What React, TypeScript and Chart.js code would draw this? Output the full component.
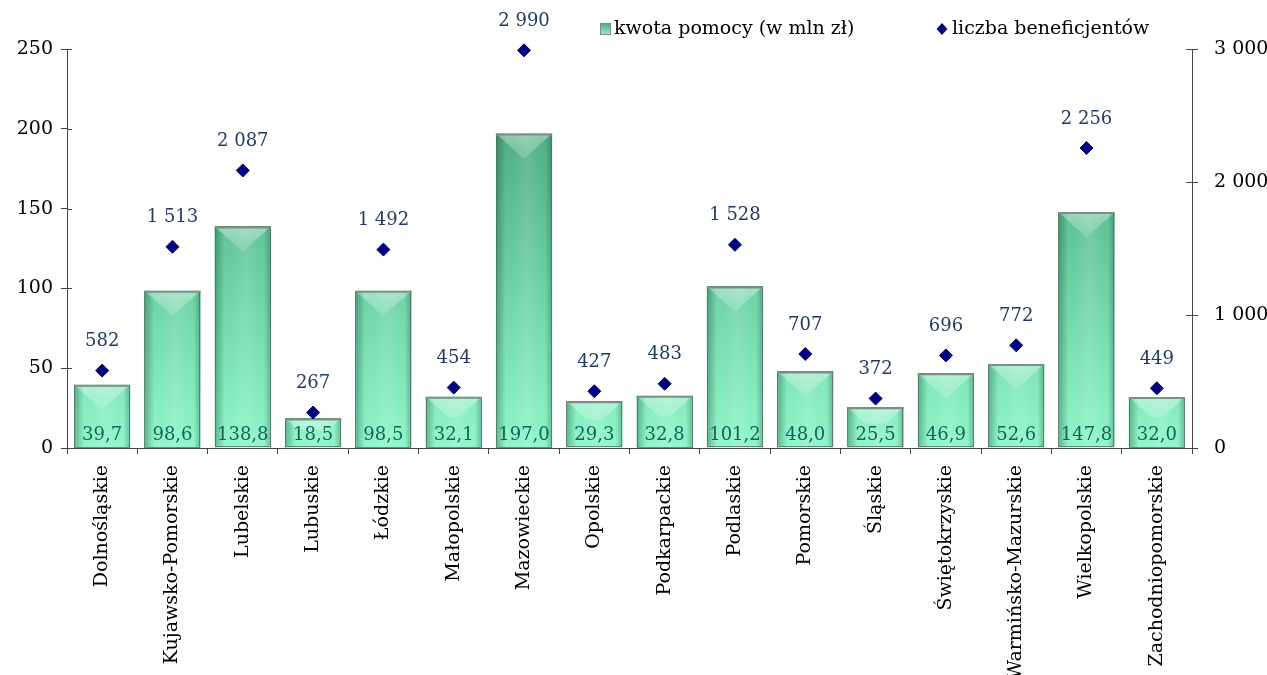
import React, { useEffect, useRef } from "react";
import { Chart, registerables } from "chart.js";

Chart.register(...registerables);

const categories = [
  "Dolnośląskie", "Kujawsko-Pomorskie", "Lubelskie", "Lubuskie", "Łódzkie", "Małopolskie",
  "Mazowieckie", "Opolskie", "Podkarpackie", "Podlaskie", "Pomorskie", "Śląskie",
  "Świętokrzyskie", "Warmińsko-Mazurskie", "Wielkopolskie", "Zachodniopomorskie",
];
const kwotaPomocy = [39.7, 98.6, 138.8, 18.5, 98.5, 32.1, 197.0, 29.3, 32.8, 101.2, 48.0, 25.5, 46.9, 52.6, 147.8, 32.0];
const liczbaBeneficjentow = [582, 1513, 2087, 267, 1492, 454, 2990, 427, 483, 1528, 707, 372, 696, 772, 2256, 449];
const seriesNames = ["kwota pomocy (w mln zł)", "liczba beneficjentów"];

const FONT = "'DejaVu Serif', 'Liberation Serif', serif";

const thousands = (n: number) => String(Math.round(n)).replace(/\B(?=(\d{3})+(?!\d))/g, " ");
const decimal = (n: number) => n.toFixed(1).replace(".", ",");

let gradCache: { key: string; g: CanvasGradient } | null = null;
function barGradient(chart: any) {
  const ca = chart.chartArea;
  if (!ca) return "#7fe0b5";
  const key = ca.top + "_" + ca.bottom;
  if (gradCache && gradCache.key === key) return gradCache.g;
  const g = chart.ctx.createLinearGradient(0, ca.top, 0, ca.bottom);
  g.addColorStop(0, "#3f9a73");
  g.addColorStop(0.5, "#66c99e");
  g.addColorStop(1, "#90f6c9");
  gradCache = { key, g };
  return g;
}

const bevelPlugin = {
  id: "bevel",
  afterDatasetDraw(chart: any, args: any) {
    if (args.index !== 0) return;
    const ctx = chart.ctx;
    const meta = chart.getDatasetMeta(0);
    meta.data.forEach((bar: any) => {
      const { x, y, base, width } = bar.getProps(["x", "y", "base", "width"], true);
      const x0 = x - width / 2;
      const x1 = x + width / 2;
      const h = base - y;
      ctx.save();
      ctx.beginPath();
      ctx.rect(x0, y, width, h);
      ctx.clip();
      let g = ctx.createLinearGradient(x0, 0, x0 + 10, 0);
      g.addColorStop(0, "rgba(20,70,50,0.38)");
      g.addColorStop(1, "rgba(20,70,50,0)");
      ctx.fillStyle = g;
      ctx.fillRect(x0, y, 10, h);
      g = ctx.createLinearGradient(x1 - 7, 0, x1, 0);
      g.addColorStop(0, "rgba(20,70,50,0)");
      g.addColorStop(1, "rgba(20,70,50,0.32)");
      ctx.fillStyle = g;
      ctx.fillRect(x1 - 7, y, 7, h);
      g = ctx.createLinearGradient(x0, 0, x1, 0);
      g.addColorStop(0.3, "rgba(255,255,255,0)");
      g.addColorStop(0.55, "rgba(255,255,255,0.10)");
      g.addColorStop(0.8, "rgba(255,255,255,0)");
      ctx.fillStyle = g;
      ctx.fillRect(x0, y, width, h);
      const full = width * 0.45;
      const d = Math.min(full, h * 0.4);
      const t = d / full;
      const half = width / 2;
      ctx.beginPath();
      ctx.moveTo(x0, y);
      ctx.lineTo(x1, y);
      ctx.lineTo(x1 - half * t, y + d);
      ctx.lineTo(x0 + half * t, y + d);
      ctx.closePath();
      g = ctx.createLinearGradient(0, y, 0, y + full);
      g.addColorStop(0, "rgba(255,255,255,0.38)");
      g.addColorStop(1, "rgba(255,255,255,0.12)");
      ctx.fillStyle = g;
      ctx.fill();
      ctx.restore();
      ctx.save();
      ctx.strokeStyle = "rgba(80,115,98,0.8)";
      ctx.lineWidth = 1;
      ctx.strokeRect(Math.round(x0) + 0.5, Math.round(y) + 0.5, Math.round(width) - 1, Math.round(h) - 1);
      ctx.strokeStyle = "#7d8f86";
      ctx.lineWidth = 2;
      ctx.beginPath();
      ctx.moveTo(x0, y + 1);
      ctx.lineTo(x1, y + 1);
      ctx.stroke();
      ctx.restore();
    });
  },
  afterDatasetsDraw(chart: any) {
    const ctx = chart.ctx;
    ctx.save();
    ctx.font = "18px " + FONT;
    ctx.textAlign = "center";
    ctx.textBaseline = "middle";
    const bars = chart.getDatasetMeta(0).data;
    bars.forEach((bar: any, i: number) => {
      const { x, base } = bar.getProps(["x", "base"], true);
      ctx.fillStyle = "#15625b";
      ctx.fillText(decimal(kwotaPomocy[i]), x, base - 12);
    });
    const pts = chart.getDatasetMeta(1).data;
    pts.forEach((p: any, i: number) => {
      const { x, y } = p.getProps(["x", "y"], true);
      ctx.fillStyle = "#1f3b63";
      ctx.fillText(thousands(liczbaBeneficjentow[i]), x, y - 29);
    });
    ctx.restore();
  },
  afterDraw(chart: any) {
    const ctx = chart.ctx;
    const ca = chart.chartArea;
    ctx.save();
    ctx.strokeStyle = "#444";
    ctx.lineWidth = 1;
    const y = chart.scales.y;
    const y2 = chart.scales.y2;
    y.ticks.forEach((t: any) => {
      const py = Math.round(y.getPixelForValue(t.value)) + 0.5;
      ctx.beginPath();
      ctx.moveTo(ca.left, py);
      ctx.lineTo(ca.left + 5, py);
      ctx.stroke();
    });
    y2.ticks.forEach((t: any) => {
      const py = Math.round(y2.getPixelForValue(t.value)) + 0.5;
      ctx.beginPath();
      ctx.moveTo(ca.right - 6, py);
      ctx.lineTo(ca.right, py);
      ctx.stroke();
    });
    ctx.font = "19px " + FONT;
    ctx.textBaseline = "middle";
    ctx.textAlign = "left";
    const ly = 29;
    const lx1 = ca.left + 533;
    const sg = ctx.createLinearGradient(0, ly - 6, 0, ly + 6);
    sg.addColorStop(0, "#4fa67f");
    sg.addColorStop(1, "#92f5c8");
    ctx.fillStyle = sg;
    ctx.fillRect(lx1, ly - 6, 11, 12);
    ctx.strokeStyle = "#7d8f86";
    ctx.strokeRect(lx1 + 0.5, ly - 5.5, 10, 11);
    ctx.fillStyle = "#000";
    ctx.fillText(seriesNames[0], lx1 + 14, ly);
    const lx2 = ca.left + 875;
    ctx.fillStyle = "#000080";
    ctx.beginPath();
    ctx.moveTo(lx2, ly - 6);
    ctx.lineTo(lx2 + 5.5, ly);
    ctx.lineTo(lx2, ly + 6);
    ctx.lineTo(lx2 - 5.5, ly);
    ctx.closePath();
    ctx.fill();
    ctx.fillStyle = "#000";
    ctx.fillText(seriesNames[1], lx2 + 10, ly);
    ctx.restore();
  },
};

export default function App() {
  const ref = useRef<HTMLCanvasElement>(null);
  useEffect(() => {
    if (!ref.current) return;
    const chart = new Chart(ref.current, {
      type: "bar",
      data: {
        labels: categories,
        datasets: [
          {
            type: "bar",
            label: seriesNames[0],
            data: kwotaPomocy,
            yAxisID: "y",
            backgroundColor: (c: any) => barGradient(c.chart),
            borderWidth: 0,
            barPercentage: 0.8,
            categoryPercentage: 1,
            order: 2,
          },
          {
            type: "line",
            label: seriesNames[1],
            data: liczbaBeneficjentow,
            yAxisID: "y2",
            showLine: false,
            clip: false,
            pointStyle: "rectRot",
            pointRadius: 6.5,
            pointBackgroundColor: "#000080",
            pointBorderColor: "#00006a",
            pointBorderWidth: 1,
            order: 1,
          } as any,
        ],
      },
      options: {
        responsive: false,
        animation: false,
        layout: { padding: { top: 49, left: 0, right: 0, bottom: 0 } },
        plugins: { legend: { display: false }, tooltip: { enabled: false } },
        scales: {
          x: {
            offset: true,
            grid: { display: true, drawOnChartArea: false, offset: true, tickLength: 6, color: "#444" },
            border: { display: true, color: "#444" },
            ticks: {
              minRotation: 90,
              maxRotation: 90,
              autoSkip: false,
              padding: 11,
              color: "#000",
              font: { family: FONT, size: 19 },
            },
            afterFit: (s: any) => { s.height = 675 - 448; },
          },
          y: {
            position: "left",
            min: 0,
            max: 250,
            ticks: { stepSize: 50, padding: 8, color: "#000", font: { family: FONT, size: 19 } },
            grid: { display: true, drawOnChartArea: false, tickLength: 6, color: "#444" },
            border: { display: true, color: "#444" },
            afterFit: (s: any) => { s.width = 67; },
          },
          y2: {
            position: "right",
            min: 0,
            max: 3000,
            ticks: {
              stepSize: 1000,
              padding: 16,
              color: "#000",
              font: { family: FONT, size: 19 },
              callback: (v: any) => thousands(Number(v)),
            },
            grid: { display: true, drawOnChartArea: false, tickLength: 6, color: "#444" },
            border: { display: true, color: "#444" },
            afterFit: (s: any) => { s.width = 1267 - 1192; },
          },
        },
      },
      plugins: [bevelPlugin],
    });
    return () => chart.destroy();
  }, []);
  return (
    <div style={{ position: "fixed", left: 0, top: 0, width: 1267, height: 675, background: "#fff" }}>
      <canvas ref={ref} width={1267} height={675} style={{ display: "block" }} />
    </div>
  );
}
